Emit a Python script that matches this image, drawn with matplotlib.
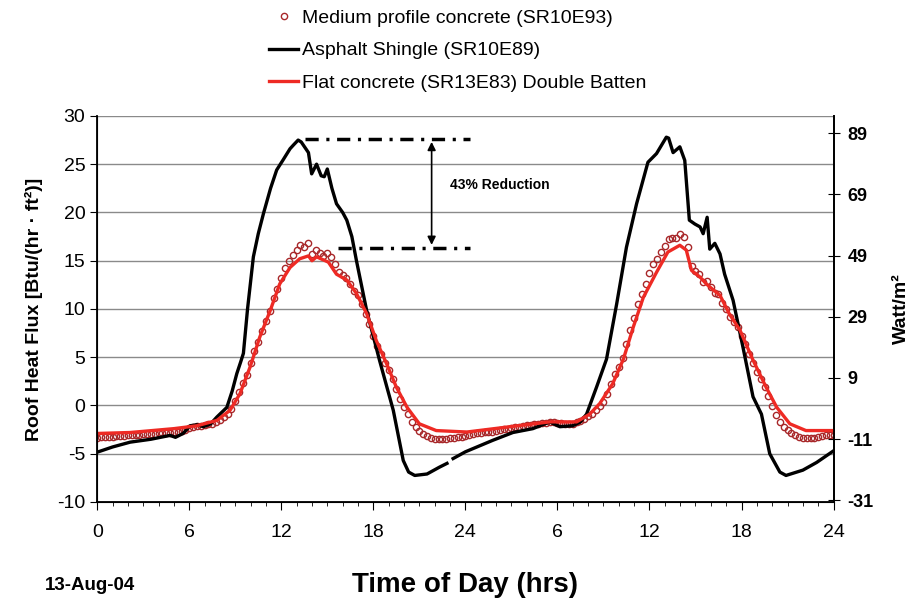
import numpy as np
import matplotlib.pyplot as plt
from matplotlib.lines import Line2D

plt.rcParams['font.family'] = ['Liberation Sans', 'DejaVu Sans']
plt.rcParams['axes.unicode_minus'] = False

# ==========================================
# DATA
# ==========================================
# Medium profile concrete: 15-minute samples over two days (hours 0..48)
medium_hours = np.arange(0, 48.01, 0.25)
medium_flux = [
    -3.35, -3.3, -3.3, -3.25,   -3.25, -3.2, -3.2, -3.15,   -3.1, -3.1, -3.05, -3.05,
    -3.0, -3.0, -2.95, -2.95,   -2.9, -2.9, -2.85, -2.85,   -2.8, -2.7, -2.6, -2.5,
    -2.3, -2.2, -2.15, -2.1,    -2.05, -1.95, -1.9, -1.7,   -1.5, -1.2, -0.9, -0.4,
    0.5, 1.4, 2.3, 3.2,         4.4, 5.6, 6.6, 7.7,         8.8, 9.8, 11.1, 12.1,
    13.2, 14.2, 15.0, 15.6,     16.1, 16.6, 16.4, 16.8,     15.7, 16.1, 15.8, 15.5,
    15.8, 15.4, 14.7, 13.8,     13.5, 13.2, 12.6, 11.9,     11.4, 10.5, 9.5, 8.4,
    7.2, 6.2, 5.3, 4.4,         3.7, 2.7, 1.7, 0.7,         -0.2, -0.9, -1.7, -2.2,
    -2.6, -3.0, -3.2, -3.35,    -3.45, -3.45, -3.45, -3.45, -3.4, -3.35, -3.3, -3.25,
    -3.15, -3.05, -2.95, -2.9,  -2.85, -2.8, -2.75, -2.7,   -2.6, -2.5, -2.45, -2.4,
    -2.3, -2.25, -2.2, -2.1,    -2.05, -2.0, -1.95, -1.9,   -1.85, -1.8, -1.7, -1.75,
    -1.8, -1.85, -1.9, -1.9,    -1.9, -1.75, -1.6, -1.4,    -1.1, -0.9, -0.5, -0.1,
    0.4, 1.2, 2.2, 3.3,         4.0, 4.9, 6.4, 7.8,         9.1, 10.5, 11.6, 12.6,
    13.7, 14.7, 15.2, 15.9,     16.5, 17.3, 17.4, 17.4,     17.8, 17.5, 16.4, 14.4,
    13.9, 13.6, 12.8, 12.9,     12.3, 11.7, 11.6, 10.6,     10.0, 9.2, 8.6, 8.1,
    7.2, 6.4, 5.3, 4.4,         3.5, 2.7, 1.9, 1.0,         -0.1, -1.0, -1.7, -2.2,
    -2.55, -2.9, -3.1, -3.25,   -3.35, -3.35, -3.35, -3.35, -3.3, -3.2, -3.1, -3.1,
    -3.05,
]

asphalt_hours = [
    0, 1, 2.15, 3.5, 4.75, 5.1, 5.6, 6.06, 6.5, 6.93, 7.4, 7.8, 8.45, 8.8, 9.1, 9.35,
    9.53, 9.8, 10.18, 10.5, 10.84, 11.3, 11.7, 12.1, 12.57, 12.8, 13.1, 13.3, 13.77,
    13.98, 14.3, 14.6, 14.8, 15.0, 15.3, 15.6, 16.0, 16.27, 16.6, 16.9, 17.57, 18.4,
    19.3, 19.95, 20.3, 20.7, 21.5, 22.3, 22.8, 23.0, 23.2, 24.0, 25.8, 27.1, 28.4,
    29.5, 30.16, 31.0, 31.5, 31.9, 32.55, 33.2, 33.86, 34.5, 35.16, 35.9, 36.46, 37.1,
    37.25, 37.54, 37.98, 38.3, 38.6, 38.96, 39.3, 39.5, 39.76, 39.93, 40.26, 40.6,
    40.9, 41.45, 42.1, 42.75, 43.3, 43.84, 44.5, 44.9, 46.0, 46.9, 48.0,
]
asphalt_flux = [
    -4.84, -4.3, -3.8, -3.5, -3.1, -3.3, -2.9, -2.1, -2.0, -2.2, -1.9, -1.2, -0.2, 1.5,
    3.3, 4.5, 5.4, 10.0, 15.4, 17.8, 19.9, 22.5, 24.4, 25.4, 26.6, 27.0, 27.5, 27.3,
    26.2, 24.0, 25.0, 23.8, 23.7, 24.5, 22.5, 20.9, 20.0, 19.2, 17.5, 15.0, 9.8, 4.7,
    -0.5, -5.7, -6.9, -7.25, -7.1, -6.4, -6.0, np.nan, -5.5, -4.8, -3.6, -2.8, -2.4,
    -1.7, -2.2, -2.1, -1.7, -0.9, 1.9, 4.8, 10.5, 16.4, 20.9, 25.2, 26.1, 27.8,
    27.7, 26.2, 26.8, 25.4, 19.2, 18.8, 18.5, 17.8, 19.5, 16.2, 16.8, 15.7,
    13.6, 10.9, 6.0, 0.9, -0.9, -5.0, -6.9, -7.25, -6.7, -5.9, -4.7,
]

flat_hours = [
    0, 2.15, 5.0, 6.5, 7.8, 8.66, 9.3, 9.97, 10.6, 11.27, 11.9, 12.57, 13.2, 13.77,
    14.0, 14.3, 15.07, 15.6, 16.27, 16.9, 17.57, 18.2, 18.87, 19.5, 20.2, 21.0, 22.1,
    24.1, 26.9, 29.5, 31.25, 32.1, 32.76, 33.6, 34.3, 34.94, 35.6, 36.46, 37.2, 37.98,
    38.4, 38.74, 39.3, 39.7, 40.6, 41.2, 41.9, 42.75, 43.6, 44.3, 45.15, 46.2, 48.0,
]
flat_flux = [
    -2.9, -2.8, -2.4, -2.1, -1.55, -0.5, 1.2, 4.0, 7.1, 9.8, 12.6, 14.3, 15.2, 15.5,
    15.0, 15.4, 14.85, 13.6, 13.0, 11.6, 9.5, 6.7, 4.3, 1.9, -0.2, -1.9, -2.6,
    -2.75, -2.2, -1.7, -1.7, -0.9, 0.2, 2.25, 4.8, 8.1, 11.2, 13.8, 15.9, 16.6,
    16.1, 14.0, 13.3, 12.6, 11.4, 9.5, 7.8, 4.7, 1.9, -0.2, -1.9, -2.6, -2.6,
]

x_ticks = [0, 6, 12, 18, 24, 30, 36, 42, 48]
x_ticklabels = ['0', '6', '12', '18', '24', '6', '12', '18', '24']
watt_ticks = [-31, -11, 9, 29, 49, 69, 89]
btu_to_watt = 3.1546

labels = ['Medium profile concrete (SR10E93)', 'Asphalt Shingle (SR10E89)',
          'Flat concrete (SR13E83) Double Batten']

# ==========================================
# PLOT
# ==========================================
fig = plt.figure(figsize=(9.17, 6.07), dpi=100)
ax = fig.add_axes([0.106, 0.173, 0.803, 0.636])

ax.plot(medium_hours, medium_flux, linestyle='none', marker='o', markersize=4.5,
        markerfacecolor='none', markeredgecolor='#a8282a', markeredgewidth=1.0, zorder=3)
ax.plot(asphalt_hours, asphalt_flux, color='black', linewidth=2.4, zorder=4)
ax.plot(flat_hours, flat_flux, color='#ee2a24', linewidth=2.4, zorder=5)

ax.set_xlim(0, 48)
ax.set_ylim(-10, 30)
ax.set_yticks(range(-10, 31, 5))
ax.set_xticks(x_ticks)
ax.set_xticklabels(x_ticklabels)
ax.set_xticks(range(0, 49), minor=True)
ax.grid(axis='y', color='#8a8a8a', linewidth=1.0)
ax.set_axisbelow(True)

for s in ['left', 'right', 'bottom']:
    ax.spines[s].set_linewidth(1.3)
ax.spines['top'].set_visible(False)

ax.tick_params(axis='x', which='major', direction='out', length=6, labelsize=14, pad=10)
ax.tick_params(axis='x', which='minor', direction='out', length=3)
ax.tick_params(axis='y', direction='out', length=5, labelsize=14)

ax.set_ylabel('Roof Heat Flux [Btu/(hr \u00b7 ft\u00b2)]', fontsize=14, fontweight='bold', labelpad=10)
ax.set_xlabel('Time of Day (hrs)', fontsize=20, fontweight='bold', labelpad=22)

# right axis in W/m2
ax2 = ax.twinx()
ax2.set_ylim(-10 * btu_to_watt, 30 * btu_to_watt)
ax2.set_yticks(watt_ticks)
ax2.tick_params(axis='y', direction='inout', length=8, labelsize=13, pad=6)
for t in ax2.get_yticklabels():
    t.set_fontweight('bold')
ax2.spines['top'].set_visible(False)
ax2.spines['right'].set_linewidth(1.3)
ax2.set_ylabel('Watt/m\u00b2', fontsize=14, fontweight='bold', labelpad=14)

# 43% reduction annotation
dash_dot = (3.8, 2.2, 0.9, 2.2)
ax.plot([13.55, 24.3], [27.6, 27.6], color='black', linewidth=2.5, dashes=dash_dot)
ax.plot([15.7, 24.3], [16.35, 16.35], color='black', linewidth=2.5, dashes=dash_dot)
ax.annotate('', xy=(21.8, 16.35), xytext=(21.8, 27.6),
            arrowprops=dict(arrowstyle='<|-|>', color='black', lw=1.2, mutation_scale=12))
ax.text(23.0, 22.8, '43% Reduction', fontsize=10, fontweight='bold', va='center', ha='left')

fig.text(0.049, 0.036, '13-Aug-04', fontsize=13.5, fontweight='bold', va='center')

handles = [
    Line2D([], [], linestyle='none', marker='o', markersize=4.5, markerfacecolor='none',
           markeredgecolor='#a8282a'),
    Line2D([], [], color='black', linewidth=2.4),
    Line2D([], [], color='#ee2a24', linewidth=2.4),
]
fig.legend(handles, labels, loc='upper left', bbox_to_anchor=(0.285, 0.997), frameon=False,
           fontsize=14, handlelength=1.5, handletextpad=0.2, labelspacing=0.75,
           borderaxespad=0)

fig.savefig('out.png', dpi=100)
